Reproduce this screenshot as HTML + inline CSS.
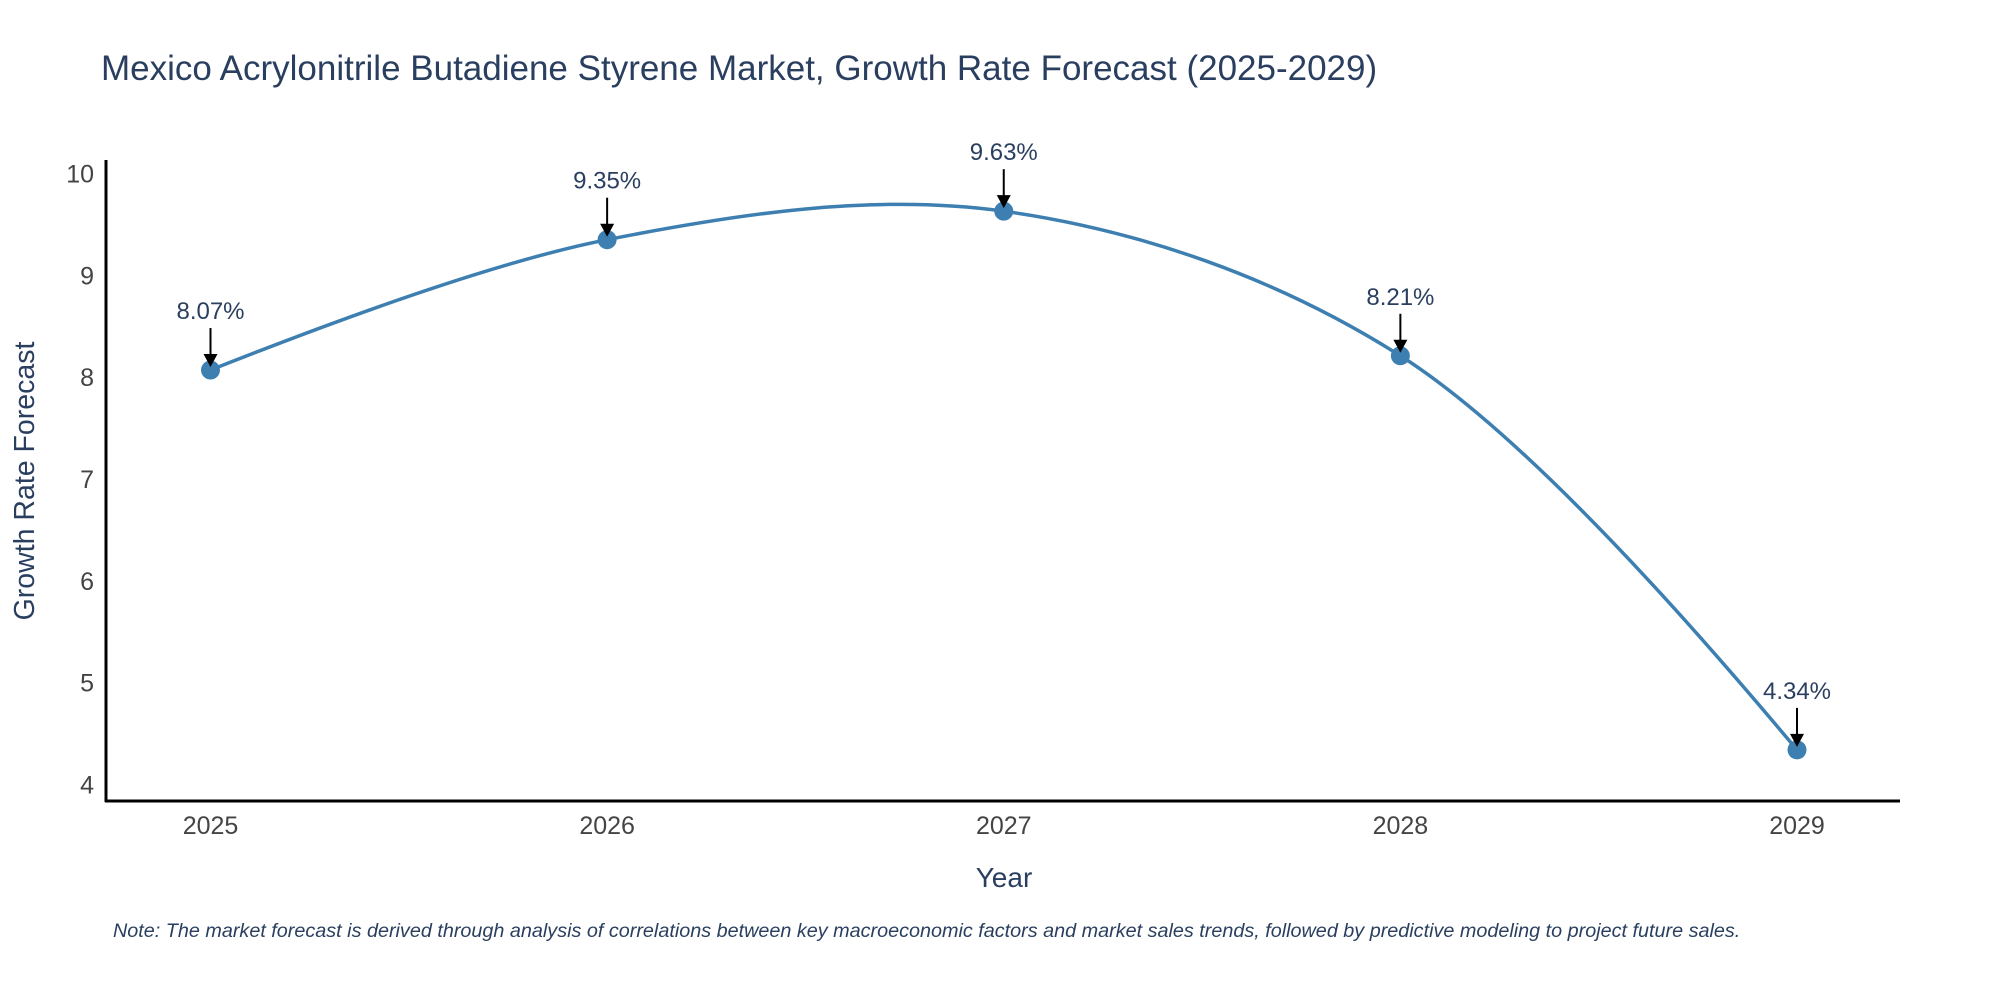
<!DOCTYPE html>
<html><head><meta charset="utf-8"><style>
html,body{margin:0;padding:0;background:#fff;}
svg{display:block;font-family:"Liberation Sans",sans-serif;}
</style></head><body>
<svg id="chart" width="2000" height="1000" viewBox="0 0 2000 1000">
<text x="101" y="80" font-size="35" fill="#2a3f5f">Mexico Acrylonitrile Butadiene Styrene Market, Growth Rate Forecast (2025-2029)</text>
<g id="yticks"></g>
<g id="xticks"></g>
<line x1="106" y1="160" x2="106" y2="802" stroke="#000" stroke-width="3"/>
<line x1="105" y1="801" x2="1900" y2="801" stroke="#000" stroke-width="3"/>
<path id="curve" fill="none" stroke="#3d7fb0" stroke-width="3.5"/>
<g id="points"></g>
<g id="annots"></g>
<text x="1004" y="887" font-size="28" fill="#2a3f5f" text-anchor="middle">Year</text>
<text transform="translate(34,481) rotate(-90)" font-size="28.5" fill="#2a3f5f" text-anchor="middle">Growth Rate Forecast</text>
<text x="113" y="937" font-size="19.8" font-style="italic" fill="#2a3f5f">Note: The market forecast is derived through analysis of correlations between key macroeconomic factors and market sales trends, followed by predictive modeling to project future sales.</text>
</svg>
<script>
const years = ["2025","2026","2027","2028","2029"];
const rates = [8.07, 9.35, 9.63, 8.21, 4.34];
const yTicks = [4,5,6,7,8,9,10];
const NS="http://www.w3.org/2000/svg";
function xs(i){return 210.5+i*(1797-210.5)/4;}
function ys(v){return 784.5-(v-4)*(784.5-173.5)/6;}
function mk(tag,attrs,parent){const e=document.createElementNS(NS,tag);for(const k in attrs)e.setAttribute(k,attrs[k]);parent.appendChild(e);return e;}
const yg=document.getElementById('yticks');
yTicks.forEach(t=>{const e=mk('text',{x:94,y:ys(t)+9,'font-size':25,fill:'#444','text-anchor':'end'},yg);


e.textContent=t;});
const xg=document.getElementById('xticks');
years.forEach((y,i)=>{const e=mk('text',{x:xs(i),y:834,'font-size':25,fill:'#444','text-anchor':'middle'},xg);


e.textContent=y;});
const P=rates.map((v,i)=>[xs(i),ys(v)]);
function tangent(a,b,c){const d1x=a[0]-b[0],d1y=a[1]-b[1],d2x=c[0]-b[0],d2y=c[1]-b[1];
const d1a=Math.pow(d1x*d1x+d1y*d1y,0.25),d2a=Math.pow(d2x*d2x+d2y*d2y,0.25);
const nx=d2a*d2a*d1x-d1a*d1a*d2x,ny=d2a*d2a*d1y-d1a*d1a*d2y;
const den1=3*d2a*(d1a+d2a),den2=3*d1a*(d1a+d2a);
return [[b[0]+nx/den1,b[1]+ny/den1],[b[0]-nx/den2,b[1]-ny/den2]];}
const T=[];for(let i=1;i<P.length-1;i++)T.push(tangent(P[i-1],P[i],P[i+1]));
let d=`M${P[0]} Q${T[0][0]} ${P[1]}`;
for(let i=2;i<P.length-1;i++)d+=` C${T[i-2][1]} ${T[i-1][0]} ${P[i]}`;
d+=` Q${T[P.length-3][1]} ${P[P.length-1]}`;
document.getElementById('curve').setAttribute('d',d);
const pg=document.getElementById('points'),ag=document.getElementById('annots');
P.forEach((p,i)=>{const c=mk('circle',{cx:p[0],cy:p[1],r:9.5,fill:'#3d7fb0'},pg);


const l=mk('line',{x1:p[0],y1:p[1]-42,x2:p[0],y2:p[1]-14,stroke:'#000','stroke-width':2},ag);


const a=mk('polygon',{points:`${p[0]-7},${p[1]-16} ${p[0]+7},${p[1]-16} ${p[0]},${p[1]-3}`,fill:'#000'},ag);


const t=mk('text',{x:p[0],y:p[1]-51,'font-size':24,fill:'#2a3f5f','text-anchor':'middle'},ag);


t.textContent=rates[i].toFixed(2)+'%';});
</script>
</body></html>
